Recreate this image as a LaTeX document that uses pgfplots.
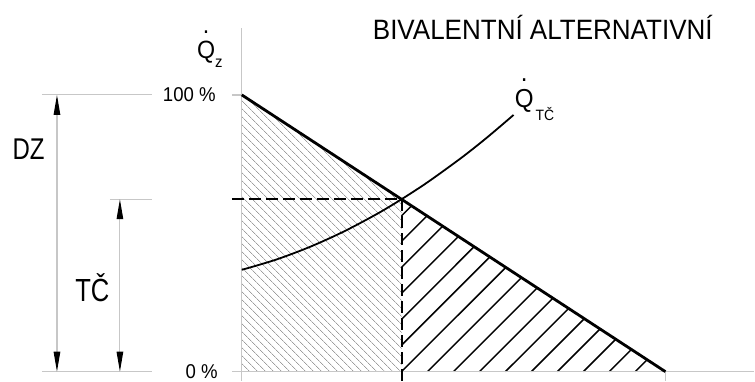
\documentclass[border=0pt]{standalone}
\usepackage{fontspec}
\setmainfont{Liberation Sans}[FakeStretch=0.93]
\newfontfamily\narrowfont{Liberation Sans}[FakeStretch=0.80]
\usepackage{pgfplots}
\pgfplotsset{compat=1.18}
\usetikzlibrary{arrows.meta,patterns.meta}

% Q with a dot above (heat flow rate)
\newcommand\Qdot{{\setbox0\hbox{Q}\rlap{\hbox to\wd0{\hss\raisebox{1.0em}{.}\hss}}\box0}}

\begin{document}
\begin{tikzpicture}
\begin{axis}[
  width=755pt, height=381pt, scale only axis,
  xmin=-57.075, xmax=120.99, ymin=-3.249, ymax=134.296,
  axis line style={draw=none}, xtick=\empty, ytick=\empty, clip=false,
]
% share covered by the boiler while the heat pump runs (fine hatch)
\addplot[draw=none, pattern={Lines[angle=-45,distance=5.4pt,line width=0.6pt]},
  pattern color=black!38]
  coordinates {(0,0) (0,100) (37.7,62.3) (37.7,0)} -- cycle;

% share covered by the heat pump alone (coarse hatch)
\addplot[black, line width=1.5pt, unbounded coords=jump] coordinates {
  (37.7,56.30) (40.07,59.93) (nan,nan)
  (37.7,47.07) (43.72,56.28) (nan,nan)
  (37.7,37.69) (47.43,52.57) (nan,nan)
  (37.7,28.30) (51.13,48.87) (nan,nan)
  (37.7,18.92) (54.84,45.16) (nan,nan)
  (37.7,9.54)  (58.55,41.45) (nan,nan)
  (37.7,0)     (62.32,37.68) (nan,nan)
  (43.83,0)    (66.03,33.97) (nan,nan)
  (49.96,0)    (69.73,30.27) (nan,nan)
  (56.09,0)    (73.44,26.56) (nan,nan)
  (62.22,0)    (77.15,22.85) (nan,nan)
  (68.35,0)    (80.85,19.15) (nan,nan)
  (74.48,0)    (84.56,15.44) (nan,nan)
  (80.61,0)    (88.27,11.73) (nan,nan)
  (86.74,0)    (91.98,8.02)  (nan,nan)
  (92.87,0)    (95.68,4.32)
};

% axes and ticks
\addplot[black!22, line width=1.3pt] coordinates {(0,-3.249) (0,124.19)};
\addplot[black!22, line width=1.3pt] coordinates {(-2.36,0) (120.99,0)};
\addplot[black!22, line width=1.3pt] coordinates {(-2.36,100) (0,100)};
\addplot[black!22, line width=1.3pt] coordinates {(100,0) (100,-3.249)};

% dimension lines on the left
\addplot[black!22, line width=1.1pt] coordinates {(-47.17,100) (-21.23,100)};
\addplot[black!22, line width=1.1pt] coordinates {(-31.13,62.3) (-21.23,62.3)};
\addplot[black!22, line width=1.1pt] coordinates {(-47.17,0) (-21.23,0)};
\addplot[black!22, line width=1.1pt,
  arrows={Triangle[length=20pt,width=6.5pt,black]-Triangle[length=20pt,width=6.5pt,black]}]
  coordinates {(-43.63,100) (-43.63,0)};
\addplot[black!22, line width=1.1pt,
  arrows={Triangle[length=20pt,width=6.5pt,black]-Triangle[length=20pt,width=6.5pt,black]}]
  coordinates {(-28.77,62.3) (-28.77,0)};

% bivalence point
\addplot[black, line width=2pt, dash pattern=on 12pt off 5pt]
  coordinates {(-2.36,62.3) (37.7,62.3)};
\addplot[black, line width=2pt, dash pattern=on 12pt off 5pt]
  coordinates {(37.7,62.3) (37.7,-3.249)};

% heat demand of the building
\addplot[black, line width=2.8pt] coordinates {(0,100) (100,0)};

% heat pump output
\addplot[black, line width=1.8pt, smooth] coordinates {
  (0,36.8) (8,40.44) (16,45.04) (24,50.58) (32,57.07) (37.7,62.3)
  (44,68.60) (52,77.47) (58,84.75) (64.15,92.76)};

% labels
\node[anchor=base west, inner sep=0pt, font=\fontsize{28}{28}\selectfont]
  at (axis cs:30.90,120.2) {BIVALENTNÍ ALTERNATIVNÍ};
\node[anchor=base west, inner sep=0pt, font=\fontsize{25}{25}\selectfont]
  at (axis cs:-10.6,113.0) {\Qdot\raisebox{-9pt}{\fontsize{16}{16}\selectfont z}};
\node[anchor=base west, inner sep=0pt, font=\fontsize{26}{26}\selectfont]
  at (axis cs:64.4,95.31) {\Qdot\kern2pt\raisebox{-13pt}{\fontsize{15}{15}\selectfont TČ}};
\node[anchor=base east, inner sep=0pt, font=\fontsize{20}{20}\selectfont]
  at (axis cs:-6.13,97.65) {100 \%};
\node[anchor=base east, inner sep=0pt, font=\fontsize{20}{20}\selectfont]
  at (axis cs:-5.66,-2.35) {0 \%};
\node[anchor=base, inner sep=0pt, font=\narrowfont\fontsize{30}{30}\selectfont]
  at (axis cs:-50.35,76.5) {DZ};
\node[anchor=base, inner sep=0pt, font=\narrowfont\fontsize{32}{32}\selectfont]
  at (axis cs:-35.26,25.27) {TČ};
\end{axis}
\end{tikzpicture}
\end{document}
